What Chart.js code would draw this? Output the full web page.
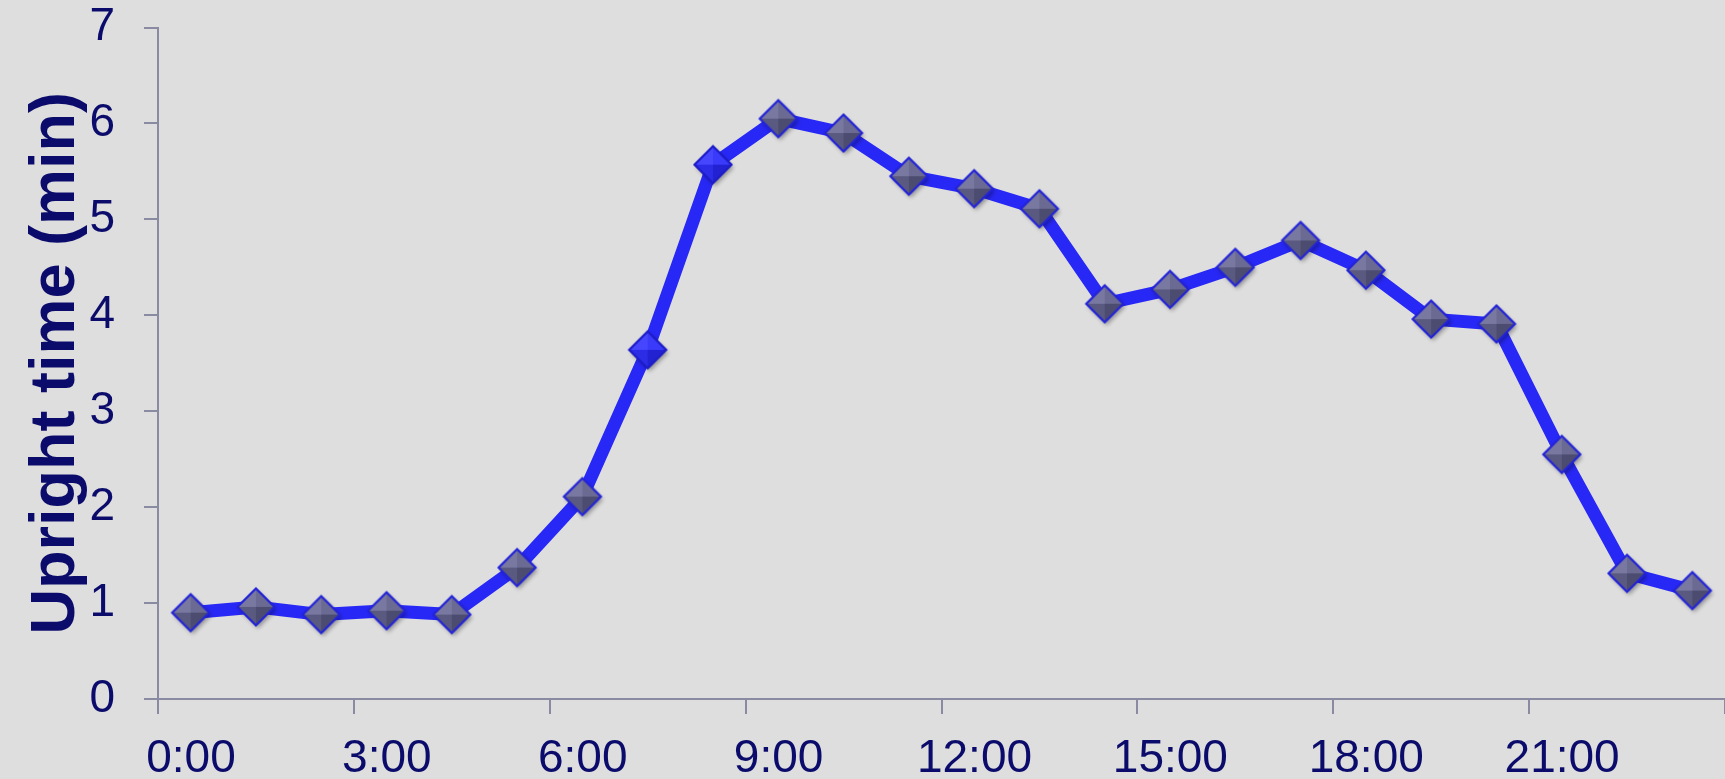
<!DOCTYPE html>
<html>
<head>
<meta charset="utf-8">
<title>Upright time by hour</title>
<script src="https://cdn.jsdelivr.net/npm/chart.js@4.4.1/dist/chart.umd.min.js"></script>
<style>
  html, body { margin: 0; padding: 0; background: #dedede; overflow: hidden; }
  #wrap { position: relative; width: 1725px; height: 779px; }
</style>
</head>
<body>
<div id="wrap"><canvas id="chart"></canvas></div>
<script>
// Hour of day at the middle of each one-hour bin
const hours = [0.5, 1.5, 2.5, 3.5, 4.5, 5.5, 6.5, 7.5, 8.5, 9.5, 10.5, 11.5,
               12.5, 13.5, 14.5, 15.5, 16.5, 17.5, 18.5, 19.5, 20.5, 21.5, 22.5, 23.5];
// Mean upright time per hour, in minutes
const uprightMinutes = [0.90, 0.96, 0.88, 0.92, 0.88, 1.37, 2.11, 3.64, 5.57, 6.05, 5.90, 5.45,
                        5.32, 5.11, 4.12, 4.27, 4.50, 4.78, 4.47, 3.96, 3.91, 2.55, 1.31, 1.13];
// Tick labels along the time axis
const xTickLabels = ['0:00', '3:00', '6:00', '9:00', '12:00', '15:00', '18:00', '21:00'];
const yTickLabels = ['0', '1', '2', '3', '4', '5', '6', '7'];
// Bins whose markers are drawn in the line colour
const blueMarkerBins = [7.5, 8.5];

const NAVY = '#0b0b6c';
const AXIS = '#8a8aa2';
const LINE = '#2828f6';

// Bevelled diamond marker drawn once into an offscreen canvas
function makeDiamond(facets, edge) {
  const size = 50, c = document.createElement('canvas');
  c.width = size; c.height = size;
  const g = c.getContext('2d');
  const cx = size / 2, cy = size / 2, r = 18.5;
  const T = [cx, cy - r], R = [cx + r, cy], B = [cx, cy + r], L = [cx - r, cy];
  // soft drop shadow
  g.save();
  g.shadowColor = 'rgba(0,0,0,0.35)';
  g.shadowBlur = 4; g.shadowOffsetX = 2; g.shadowOffsetY = 3;
  g.beginPath(); g.moveTo(...T); g.lineTo(...R); g.lineTo(...B); g.lineTo(...L); g.closePath();
  g.fillStyle = facets[3]; g.fill();
  g.restore();
  const tri = (a, b, col) => {
    g.beginPath(); g.moveTo(cx, cy); g.lineTo(...a); g.lineTo(...b); g.closePath();
    g.fillStyle = col; g.fill();
  };
  tri(L, T, facets[0]);
  tri(T, R, facets[1]);
  tri(L, B, facets[2]);
  tri(B, R, facets[3]);
  g.beginPath(); g.moveTo(...T); g.lineTo(...R); g.lineTo(...B); g.lineTo(...L); g.closePath();
  g.lineWidth = 2.2; g.strokeStyle = edge; g.stroke();
  return c;
}
const slateMarker = makeDiamond(['#7878a0', '#6a6a92', '#5a5a80', '#4c4c70'], '#2323d8');
const blueMarker = makeDiamond(['#4646ff', '#3a3afa', '#2c2ce6', '#2222d2'], '#1c1cc8');

const points = hours.map((h, i) => ({ x: h, y: uprightMinutes[i] }));

new Chart(document.getElementById('chart'), {
  type: 'line',
  data: {
    datasets: [{
      data: points,
      borderColor: LINE,
      borderWidth: 13,
      tension: 0,
      borderJoinStyle: 'round',
      pointStyle: ctx => blueMarkerBins.includes(hours[ctx.dataIndex]) ? blueMarker : slateMarker,
      pointRadius: 18,
      pointHoverRadius: 18
    }]
  },
  options: {
    responsive: true,
    maintainAspectRatio: false,
    animation: false,
    layout: { padding: 0, autoPadding: false },
    plugins: { legend: { display: false }, tooltip: { enabled: false } },
    scales: {
      x: {
        type: 'linear',
        min: 0, max: 24,
        // the time axis runs on to the right edge of the page
        afterFit: s => { s.height = 80; s.paddingRight = 0; },
        border: { display: true, color: AXIS, width: 2 },
        grid: { drawOnChartArea: false, drawTicks: true, tickLength: 15, color: AXIS, lineWidth: 2 },
        ticks: {
          stepSize: 3,
          autoSkip: false,
          maxRotation: 0,
          padding: 18,
          labelOffset: 33,
          color: NAVY,
          font: { family: '"Liberation Sans", Arial, sans-serif', size: 46 },
          callback: v => xTickLabels[v / 3] ?? ''
        }
      },
      y: {
        min: 0, max: 7,
        afterFit: s => { s.width = 158; s.paddingTop = 27.5; },
        border: { display: true, color: AXIS, width: 2 },
        grid: { drawOnChartArea: false, drawTicks: true, tickLength: 14, color: AXIS, lineWidth: 2 },
        ticks: {
          stepSize: 1,
          padding: 29,
          color: NAVY,
          font: { family: '"Liberation Sans", Arial, sans-serif', size: 46 },
          callback: v => yTickLabels[v] ?? ''
        },
        title: {
          display: true,
          text: 'Upright time (min)',
          color: NAVY,
          padding: { top: 19, bottom: 0 },
          font: { family: '"Liberation Sans", Arial, sans-serif', size: 63, weight: 'bold' }
        }
      }
    }
  }
});
</script>
</body>
</html>
